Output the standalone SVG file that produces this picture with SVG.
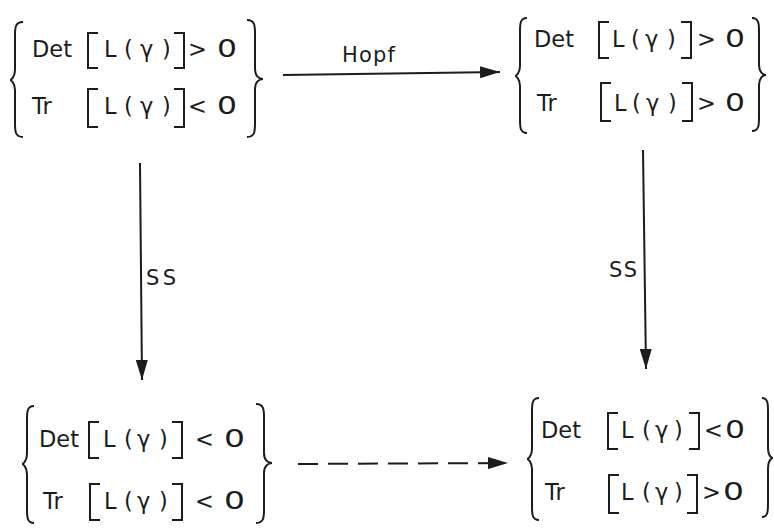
<svg xmlns="http://www.w3.org/2000/svg" width="774" height="531" viewBox="0 0 774 531">
<defs>
<style>
.t{font-family:"DejaVu Sans","Liberation Sans",Arial,sans-serif;font-size:22.5px;fill:#1c1c1c}
.z{font-family:"DejaVu Sans","Liberation Sans",Arial,sans-serif;font-size:24px;fill:#1c1c1c}
.lbl{font-family:"DejaVu Sans","Liberation Sans",Arial,sans-serif;font-size:21px;fill:#1c1c1c}
.br{fill:none;stroke:#1c1c1c;stroke-width:2;stroke-linejoin:miter}
.ln{fill:none;stroke:#1c1c1c;stroke-width:2}
</style>
<marker id="ah" viewBox="0 0 20 12" refX="20" refY="6" markerWidth="20" markerHeight="12" markerUnits="userSpaceOnUse" orient="auto">
<path d="M0,0 L20,6 L0,12 Z" fill="#1c1c1c"/>
</marker>
</defs>
<rect width="774" height="531" fill="#ffffff"/>

<g id="node-top-left">
<path class="br" d="M23,22 C15,22 15,28 15,36 L15,70 C15,77 11,80 10,80 C11,80 15,83 15,90 L15,123 C15,131 15,137 23,137"/>
<path class="br" d="M247,20 C255,20 255,26 255,34 L255,69 C255,76 259,79 263,79 C259,79 255,82 255,89 L255,123 C255,131 255,137 247,137"/>
<text class="t" x="32" y="57">Det</text>
<path class="br" d="M98,33 L88,33 L88,68 L98,68"/>
<text class="t" x="104 124 140 162" y="57">L(γ)</text>
<path class="br" d="M174,33 L184,33 L184,68 L174,68"/>
<text class="t" x="188" y="57">&gt;</text>
<text class="z" x="217" y="57" textLength="20" lengthAdjust="spacingAndGlyphs">0</text>
<text class="t" x="32" y="114">Tr</text>
<path class="br" d="M98,89 L88,89 L88,127 L98,127"/>
<text class="t" x="104 124 140 162" y="114">L(γ)</text>
<path class="br" d="M174,89 L184,89 L184,127 L174,127"/>
<text class="t" x="188" y="114">&lt;</text>
<text class="z" x="217" y="114" textLength="20" lengthAdjust="spacingAndGlyphs">0</text>
</g>

<g id="node-top-right">
<path class="br" d="M527,18 C520,18 520,24 520,32 L520,66 C520,73 516,76 515,76 C516,76 520,79 520,86 L520,119 C520,127 520,133 527,133"/>
<path class="br" d="M752,18 C759,18 759,24 759,32 L759,65 C759,72 763,75 766,75 C763,75 759,78 759,85 L759,117 C759,125 759,131 752,131"/>
<text class="t" x="534" y="47">Det</text>
<path class="br" d="M609,22 L599,22 L599,58 L609,58"/>
<text class="t" x="612 631 645 667" y="47">L(γ)</text>
<path class="br" d="M681,22 L691,22 L691,58 L681,58"/>
<text class="t" x="697" y="47">&gt;</text>
<text class="z" x="725" y="47" textLength="20" lengthAdjust="spacingAndGlyphs">0</text>
<text class="t" x="537" y="111">Tr</text>
<path class="br" d="M611,83 L601,83 L601,121 L611,121"/>
<text class="t" x="614 632 646 668" y="111">L(γ)</text>
<path class="br" d="M682,83 L692,83 L692,121 L682,121"/>
<text class="t" x="697" y="111">&gt;</text>
<text class="z" x="725" y="111" textLength="20" lengthAdjust="spacingAndGlyphs">0</text>
</g>

<g id="node-bottom-left">
<path class="br" d="M34,406 C27,406 27,412 27,420 L27,454 C27,461 23,464 22,464 C23,464 27,467 27,474 L27,509 C27,517 27,523 34,523"/>
<path class="br" d="M256,404 C264,404 264,410 264,418 L264,453 C264,460 268,463 272,463 C268,463 264,466 264,473 L264,509 C264,517 264,523 256,523"/>
<text class="t" x="39" y="447">Det</text>
<path class="br" d="M99,422 L89,422 L89,458 L99,458"/>
<text class="t" x="103 124 137 159" y="447">L(γ)</text>
<path class="br" d="M172,422 L182,422 L182,458 L172,458"/>
<text class="t" x="195" y="447">&lt;</text>
<text class="z" x="224" y="447" textLength="21" lengthAdjust="spacingAndGlyphs">0</text>
<text class="t" x="43" y="509">Tr</text>
<path class="br" d="M100,484 L90,484 L90,520 L100,520"/>
<text class="t" x="104 124 137 159" y="509">L(γ)</text>
<path class="br" d="M172,484 L182,484 L182,520 L172,520"/>
<text class="t" x="195" y="509">&lt;</text>
<text class="z" x="224" y="509" textLength="21" lengthAdjust="spacingAndGlyphs">0</text>
</g>

<g id="node-bottom-right">
<path class="br" d="M539,398 C532,398 532,404 532,412 L532,449 C532,456 528,459 527,459 C528,459 532,462 532,469 L532,506 C532,514 532,520 539,520"/>
<path class="br" d="M762,398 C768,398 768,404 768,412 L768,448 C768,455 771,458 773,458 C771,458 768,461 768,468 L768,503 C768,511 768,517 762,517"/>
<text class="t" x="541" y="438">Det</text>
<path class="br" d="M618,413 L608,413 L608,449 L618,449"/>
<text class="t" x="621 642 655 674" y="438">L(γ)</text>
<path class="br" d="M689,413 L699,413 L699,449 L689,449"/>
<text class="t" x="704" y="438">&lt;</text>
<text class="z" x="725" y="438" textLength="20" lengthAdjust="spacingAndGlyphs">0</text>
<text class="t" x="545" y="500">Tr</text>
<path class="br" d="M619,475 L609,475 L609,513 L619,513"/>
<text class="t" x="621 642 655 674" y="500">L(γ)</text>
<path class="br" d="M687,475 L697,475 L697,513 L687,513"/>
<text class="t" x="702" y="500">&gt;</text>
<text class="z" x="723" y="500" textLength="21" lengthAdjust="spacingAndGlyphs">0</text>
</g>

<g id="connectors">
<line class="ln" x1="283" y1="75" x2="500" y2="72" marker-end="url(#ah)"/>
<text class="lbl" x="342" y="62" textLength="53" lengthAdjust="spacing">Hopf</text>
<line class="ln" x1="140" y1="163" x2="142" y2="380" marker-end="url(#ah)"/>
<text class="lbl" x="146" y="285" textLength="30" lengthAdjust="spacing">SS</text>
<line class="ln" x1="643" y1="150" x2="646" y2="369" marker-end="url(#ah)"/>
<text class="lbl" x="609" y="277" textLength="28" lengthAdjust="spacing">SS</text>
<line class="ln" x1="298" y1="464" x2="508" y2="463" stroke-dasharray="20 10" marker-end="url(#ah)"/>
</g>
</svg>
